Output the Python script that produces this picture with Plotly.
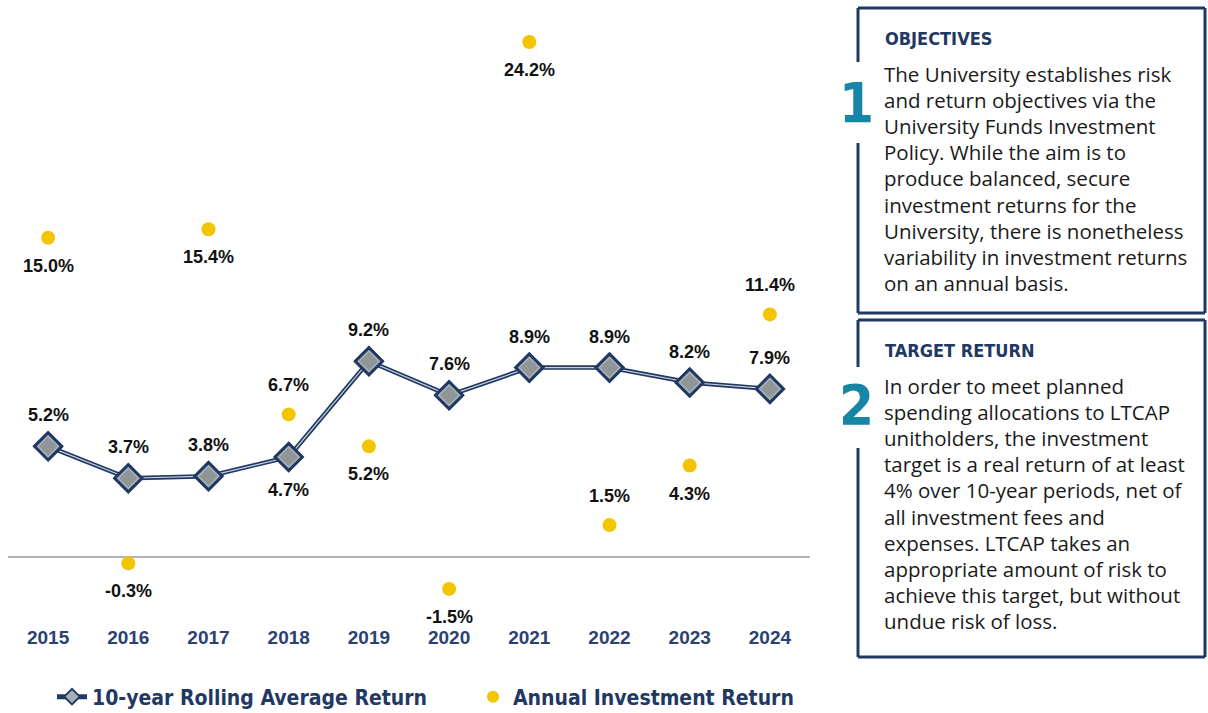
import plotly.graph_objects as go

years = ["2015", "2016", "2017", "2018", "2019", "2020", "2021", "2022", "2023", "2024"]
rolling = [5.2, 3.7, 3.8, 4.7, 9.2, 7.6, 8.9, 8.9, 8.2, 7.9]
annual = [15.0, -0.3, 15.4, 6.7, 5.2, -1.5, 24.2, 1.5, 4.3, 11.4]
rolling_pos = ["above", "above", "above", "below", "above", "above", "above", "above", "above", "above"]
annual_pos = ["below", "below", "below", "above", "below", "below", "below", "above", "below", "above"]

box1_title = "OBJECTIVES"
box1_lines = [
    "The University establishes risk",
    "and return objectives via the",
    "University Funds Investment",
    "Policy. While the aim is to",
    "produce balanced, secure",
    "investment returns for the",
    "University, there is nonetheless",
    "variability in investment returns",
    "on an annual basis.",
]
box2_title = "TARGET RETURN"
box2_lines = [
    "In order to meet planned",
    "spending allocations to LTCAP",
    "unitholders, the investment",
    "target is a real return of at least",
    "4% over 10-year periods, net of",
    "all investment fees and",
    "expenses. LTCAP takes an",
    "appropriate amount of risk to",
    "achieve this target, but without",
    "undue risk of loss.",
]

W, H = 1208, 713
L, R, T, B = 8, 810, 20, 615
ZERO_PX = 557
PPU = 21.28
ymin = -(B - ZERO_PX) / PPU
ymax = (ZERO_PX - T) / PPU

NAVY = "#1f3864"
TEAL = "#1786a6"
GOLD = "#f2c500"
NARROW = "Liberation Sans Narrow, DejaVu Sans Condensed, Arial Narrow, sans-serif"
BODY = "Open Sans, Liberation Sans, sans-serif"
LABEL = "Liberation Sans, Arial, sans-serif"


def px_x(px):
    return (px - L) / (R - L)


def px_y(py):
    return (B - py) / (B - T)


fig = go.Figure()

fig.add_trace(go.Scatter(
    x=years, y=rolling, mode="lines+markers", name="10-year Rolling Average Return",
    line=dict(color=NAVY, width=4.5), legend="legend",
    marker=dict(symbol="diamond", size=20, color="#a9b0b5", line=dict(color=NAVY, width=3)),
    hoverinfo="skip",
))
fig.add_trace(go.Scatter(
    x=years, y=rolling, mode="lines", showlegend=False,
    line=dict(color="#c9d0da", width=1.2), hoverinfo="skip",
))
fig.add_trace(go.Scatter(
    x=years, y=rolling, mode="markers", showlegend=False,
    marker=dict(symbol="diamond", size=21, color="#a9b0b5", line=dict(color=NAVY, width=3)),
    hoverinfo="skip",
))
fig.add_trace(go.Scatter(
    x=years, y=rolling, mode="markers", showlegend=False,
    marker=dict(symbol="diamond", size=14, color="#8f9697", line=dict(width=0)),
    hoverinfo="skip",
))
fig.add_trace(go.Scatter(
    x=years, y=annual, mode="markers", name="Annual Investment Return", legend="legend2",
    marker=dict(symbol="circle", size=14, color=GOLD),
    hoverinfo="skip",
))

annotations = []
for i, (v, pos) in enumerate(zip(rolling, rolling_pos)):
    annotations.append(dict(
        x=i, y=v, xref="x", yref="y", text=f"{v:.1f}%", showarrow=False,
        yshift=31 if pos == "above" else -33,
        font=dict(family=LABEL, size=18, color="#111111", weight="bold"),
    ))
for i, (v, pos) in enumerate(zip(annual, annual_pos)):
    annotations.append(dict(
        x=i, y=v, xref="x", yref="y", text=f"{v:.1f}%", showarrow=False,
        yshift=29 if pos == "above" else -28,
        font=dict(family=LABEL, size=18, color="#111111", weight="bold"),
    ))


def add_box(title, lines, top, bottom, gap_top, gap_bot, number, num_y, title_y, first_line_y):
    shapes = []
    x0, x1 = 858, 1205
    lw = 3
    seg = [
        ((x0, top), (x1, top)),
        ((x1, top), (x1, bottom)),
        ((x0, bottom), (x1, bottom)),
        ((x0, top), (x0, gap_top)),
        ((x0, gap_bot), (x0, bottom)),
    ]
    for (a, b) in seg:
        shapes.append(dict(type="line", xref="paper", yref="paper",
                           x0=px_x(a[0]), y0=px_y(a[1]), x1=px_x(b[0]), y1=px_y(b[1]),
                           line=dict(color=NAVY, width=lw)))
    anns = []
    anns.append(dict(x=px_x(883), y=px_y(title_y), xref="paper", yref="paper", text=title,
                     showarrow=False, xanchor="left", yanchor="middle",
                     font=dict(family=NARROW, size=18, color=NAVY, weight="bold")))
    anns.append(dict(x=px_x(856), y=px_y(num_y), xref="paper", yref="paper", text=number,
                     showarrow=False, xanchor="center", yanchor="middle",
                     font=dict(family=NARROW, size=56, color=TEAL, weight="bold")))
    for i, ln in enumerate(lines):
        anns.append(dict(x=px_x(882), y=px_y(first_line_y + i * 26.1), xref="paper", yref="paper",
                         text=ln, showarrow=False, xanchor="left", yanchor="middle",
                         font=dict(family=BODY, size=20.5, color="#1a1a1a")))
    return shapes, anns


s1, a1 = add_box(box1_title, box1_lines, 8, 313, 62, 143, "1", 103, 38, 74)
s2, a2 = add_box(box2_title, box2_lines, 320, 657, 367, 448, "2", 405, 350, 386)
annotations += a1 + a2

legend_font = dict(family=NARROW, size=21, color=NAVY, weight="bold")
fig.update_layout(
    width=W, height=H,
    margin=dict(l=L, r=W - R, t=T, b=H - B, autoexpand=False),
    paper_bgcolor="white", plot_bgcolor="white",
    showlegend=True,
    legend=dict(orientation="h", xref="container", yref="container",
                x=52 / W, y=1 - 697 / H, xanchor="left", yanchor="middle",
                font=legend_font, itemsizing="constant", bgcolor="rgba(0,0,0,0)"),
    legend2=dict(orientation="h", xref="container", yref="container",
                 x=473 / W, y=1 - 697 / H, xanchor="left", yanchor="middle",
                 font=legend_font, itemsizing="constant", bgcolor="rgba(0,0,0,0)"),
    xaxis=dict(type="category", range=[-0.5, 9.5], showgrid=False, zeroline=False, showline=False,
               ticks="outside", ticklen=5, tickcolor="rgba(0,0,0,0)",
               tickfont=dict(family=LABEL, size=19, color="#2b4171", weight="bold"), fixedrange=True),
    yaxis=dict(range=[ymin, ymax], showgrid=False, zeroline=True, zerolinecolor="#b3b3b3",
               zerolinewidth=1.5, showticklabels=False, showline=False, fixedrange=True),
    annotations=annotations,
    shapes=s1 + s2,
)

fig.write_html("out.html", config={"displayModeBar": False},
               post_script="document.body.style.margin='0px';")
